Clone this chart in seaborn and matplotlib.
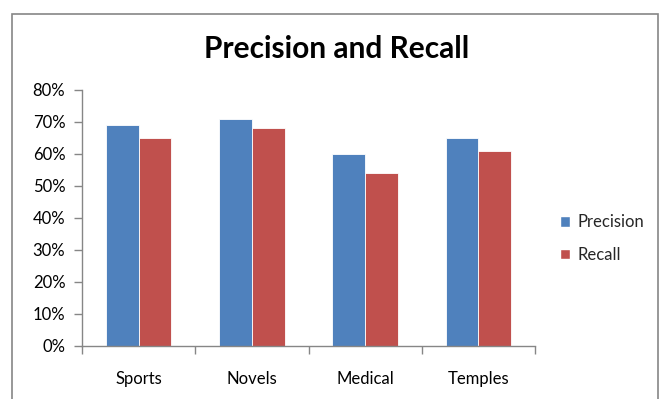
import matplotlib
matplotlib.use("Agg")
import matplotlib.pyplot as plt
import seaborn as sns
import pandas as pd
from matplotlib.patches import Rectangle, Patch
from matplotlib.ticker import FuncFormatter, MultipleLocator, FixedLocator

categories = ["Sports", "Novels", "Medical", "Temples"]
precision = [69, 71, 60, 65]
recall = [65, 68, 54, 61]
series = ["Precision", "Recall"]
colors = ["#4F81BD", "#C0504D"]

df = pd.DataFrame({
    "Category": categories * 2,
    "Series": [series[0]] * 4 + [series[1]] * 4,
    "Value": precision + recall,
})

sns.set_theme(style="white")
plt.rcParams["font.family"] = ["Lato", "DejaVu Sans"]

W, H = 662, 399
fig = plt.figure(figsize=(W / 100, H / 100), dpi=100)
ax = fig.add_axes([82 / W, 1 - 346 / H, (535 - 82) / W, (346 - 90) / H])

sns.barplot(data=df, x="Category", y="Value", hue="Series", palette=colors,
            width=0.58, ax=ax, legend=False, edgecolor="white", linewidth=0.6,
            saturation=1)

ax.set_ylim(0, 80)
ax.set_xlim(-0.5, 3.5)
ax.yaxis.set_major_locator(MultipleLocator(10))
ax.yaxis.set_major_formatter(FuncFormatter(lambda v, p: f"{int(v)}%"))
ax.set_xlabel("")
ax.set_ylabel("")

for s in ["top", "right"]:
    ax.spines[s].set_visible(False)
for s in ["left", "bottom"]:
    ax.spines[s].set_color("#868686")
    ax.spines[s].set_linewidth(1.0)

ax.tick_params(axis="y", which="major", left=True, length=6, width=1,
               color="#868686", labelsize=12, labelcolor="#000000", pad=6)
ax.tick_params(axis="x", which="major", bottom=False, labelsize=12,
               labelcolor="#000000", pad=12)
ax.xaxis.set_minor_locator(FixedLocator([-0.5, 0.5, 1.5, 2.5, 3.5]))
ax.tick_params(axis="x", which="minor", bottom=True, length=6, width=1,
               color="#868686")

fig.text(337 / W, 1 - 49 / H, "Precision and Recall", ha="center", va="center",
         fontsize=21.5, fontweight="bold", color="#000000")

handles = [Patch(facecolor=c, edgecolor="white") for c in colors]
fig.legend(handles, series, loc="center left",
           bbox_to_anchor=(552 / W, 1 - 238.5 / H), frameon=False,
           fontsize=12, handlelength=0.6, handleheight=0.6,
           handletextpad=0.45, labelspacing=1.0, borderpad=0)

fig.patches.append(Rectangle((12 / W, -0.01), (658 - 12) / W, 1 - 14 / H + 0.01,
                             transform=fig.transFigure, fill=False,
                             edgecolor="#868686", linewidth=1.2))

fig.savefig("out.png", dpi=100, facecolor="white")
